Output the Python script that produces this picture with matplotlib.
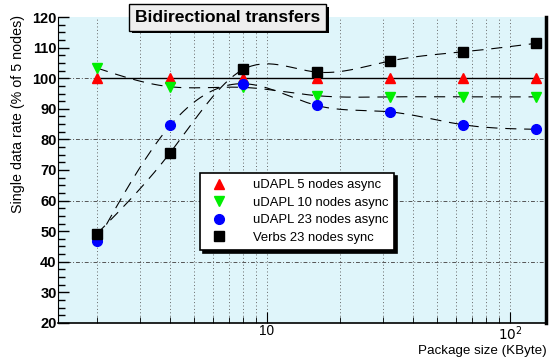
import numpy as np
import matplotlib
matplotlib.use("Agg")
import matplotlib.pyplot as plt
import matplotlib.patheffects as pe
from matplotlib.ticker import MultipleLocator, NullFormatter

plt.rcParams['font.family'] = ['Liberation Sans', 'DejaVu Sans']

# package sizes (KByte)
sizes = [2, 4, 8, 16, 32, 64, 128]

udapl5 = [100, 100, 100, 100, 100, 100, 100]
udapl10 = [103.3, 97.2, 97.0, 94.3, 93.9, 93.9, 93.9]
udapl23 = [46.8, 84.6, 98.2, 91.1, 89.0, 84.8, 83.3]
verbs23 = [49.2, 75.7, 102.9, 102.0, 105.6, 108.6, 111.4]

labels = ["uDAPL 5 nodes async", "uDAPL 10 nodes async",
          "uDAPL 23 nodes async", "Verbs 23 nodes sync"]


def smooth(xs, ys, n=200):
    # natural cubic spline through the points in log-x, like ROOT's "C" option
    t = np.log10(np.asarray(xs, float))
    y = np.asarray(ys, float)
    k = len(t)
    h = np.diff(t)
    A = np.zeros((k, k))
    r = np.zeros(k)
    A[0, 0] = A[-1, -1] = 1
    for i in range(1, k - 1):
        A[i, i - 1] = h[i - 1]
        A[i, i] = 2 * (h[i - 1] + h[i])
        A[i, i + 1] = h[i]
        r[i] = 3 * ((y[i + 1] - y[i]) / h[i] - (y[i] - y[i - 1]) / h[i - 1])
    c = np.linalg.solve(A, r)
    tt = np.linspace(t[0], t[-1], n)
    idx = np.clip(np.searchsorted(t, tt) - 1, 0, k - 2)
    d = tt - t[idx]
    b = (y[idx + 1] - y[idx]) / h[idx] - h[idx] * (2 * c[idx] + c[idx + 1]) / 3
    dd = (c[idx + 1] - c[idx]) / (3 * h[idx])
    return 10 ** tt, y[idx] + b * d + c[idx] * d ** 2 + dd * d ** 3


fig = plt.figure(figsize=(5.49, 3.58), dpi=100)
ax = fig.add_axes([0.1056, 0.0978, 0.8889, 0.8547])
ax.set_facecolor('#dff5fa')
ax.set_xscale('log')
ax.set_xlim(1.38, 140.7)
ax.set_ylim(20, 120)

# grid
for gx in list(range(2, 10)) + list(range(10, 101, 10)):
    ax.axvline(gx, color='#666666', lw=0.7, ls=(0, (1, 2.5)), zorder=1)
for gy in [40, 60, 80, 100]:
    ax.axhline(gy, color='#555555', lw=0.7, ls=(0, (4, 2, 1, 2)), zorder=1)

# curves
ax.plot(sizes, udapl5, color='black', lw=1.0, zorder=2)
for vals in [udapl10, udapl23, verbs23]:
    sx, sy = smooth(sizes, vals)
    ax.plot(sx, sy, color='black', lw=0.8, ls=(0, (10, 7)), zorder=2)

h1, = ax.plot(sizes, udapl5, ls='none', marker='^', ms=7, color='#ff0000', zorder=3)
h2, = ax.plot(sizes, udapl10, ls='none', marker='v', ms=7, color='#00ee00', zorder=3)
h3, = ax.plot(sizes, udapl23, ls='none', marker='o', ms=7, color='#0000ff', zorder=3)
h4, = ax.plot(sizes, verbs23, ls='none', marker='s', ms=6.5, color='black', zorder=3)

# axes look
ax.spines['top'].set_visible(False)
ax.spines['right'].set_linewidth(2.5)
ax.spines['left'].set_linewidth(0.8)
ax.spines['bottom'].set_linewidth(1.2)
ax.yaxis.set_major_locator(MultipleLocator(10))
ax.yaxis.set_minor_locator(MultipleLocator(2.5))
ax.tick_params(axis='y', which='major', direction='in', length=8, width=1,
               labelsize=10.5, pad=1)
ax.tick_params(axis='y', which='minor', direction='in', length=5, width=1)
ax.set_xticks([10, 100], ['10', '$10^{2}$'])
ax.xaxis.set_minor_formatter(NullFormatter())
ax.tick_params(axis='x', which='major', direction='in', length=8, labelsize=9.8, pad=1)
ax.tick_params(axis='x', which='minor', direction='in', length=4)
for lab in ax.get_yticklabels():
    lab.set_fontweight('bold')

fig.text(0.033, 1 - 15 / 358, 'Single data rate (% of 5 nodes)', rotation=90,
         ha='center', va='top', fontsize=10.3)
fig.text(0.995, 0.002, 'Package size (KByte)', ha='right', va='bottom', fontsize=9.6)

leg = ax.legend([h1, h2, h3, h4], labels, loc='upper left',
                bbox_to_anchor=(0.291, 0.49), fontsize=9.4, frameon=True,
                fancybox=False, edgecolor='black', framealpha=1,
                borderpad=0.45, labelspacing=0.42, handletextpad=1.6,
                borderaxespad=0, shadow={'color': 'black', 'alpha': 1, 'shade': 1})
leg.get_frame().set_linewidth(1.2)

# title box with shadow
title = fig.text(0.415, 0.952, 'Bidirectional transfers', ha='center', va='center',
                 fontsize=12.6, fontweight='bold',
                 bbox=dict(boxstyle='square,pad=0.34', facecolor='#eeeeee',
                           edgecolor='black', lw=1))
title.get_bbox_patch().set_path_effects([
    pe.SimplePatchShadow(offset=(2, -2), shadow_rgbFace='black', alpha=1),
    pe.Normal()])

fig.savefig('out.png', dpi=100)
